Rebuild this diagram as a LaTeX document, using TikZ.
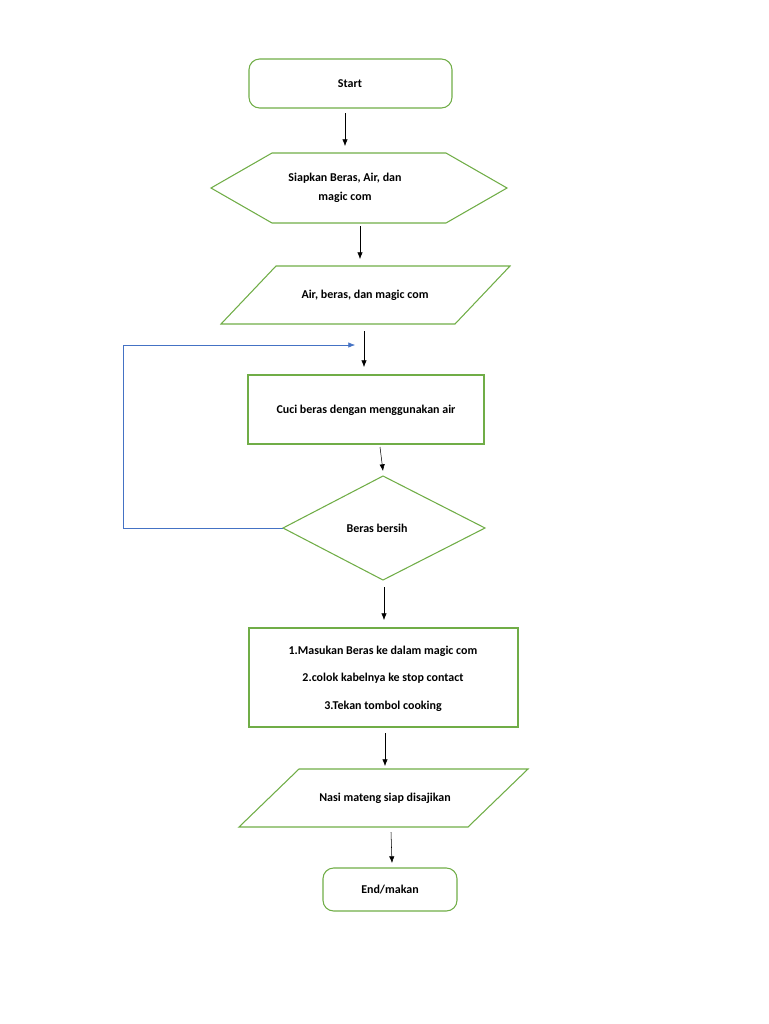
\documentclass[tikz,border=0pt]{standalone}
\usepackage{fontspec}
\setmainfont{Carlito}
\usetikzlibrary{arrows.meta}
\definecolor{boxgreen}{RGB}{112,173,71}
\definecolor{loopblue}{RGB}{68,114,196}
\begin{document}
\begin{tikzpicture}[x=0.0264cm,y=-0.0264cm,
                box/.style={draw=boxgreen,thick},
                label/.style={font=\fontsize{9}{14}\selectfont\bfseries,align=center},
                flow/.style={-{Latex[length=5pt,width=4pt]},black},
            ]
            \useasboundingbox (0,0) rectangle (768,1024);
            % shapes
            \draw[box,rounded corners=8] (249,59) rectangle (452,108);
            \draw[box] (211,188) -- (272,153) -- (446,153) -- (507,188) -- (446,223) -- (272,223) -- cycle;
            \draw[box] (221,324) -- (276,266) -- (510,266) -- (455,324) -- cycle;
            \draw[box,line width=1.2pt] (248,375) rectangle (484,444);
            \draw[box] (283,528) -- (383,476) -- (485,528) -- (383,580) -- cycle;
            \draw[box,line width=1.2pt] (249,628) rectangle (518,727);
            \draw[box] (239,827) -- (299,769) -- (528,769) -- (468,827) -- cycle;
            \draw[box,rounded corners=8] (323,868) rectangle (457,911);
            % texts
            \node[label] (start) at (350,84) {Start};
            \node[label] (siap) at (345,188) {Siapkan Beras, Air, dan\\magic com};
            \node[label] (input) at (365,295) {Air, beras, dan magic com};
            \node[label] (cuci) at (366,410) {Cuci beras dengan menggunakan air};
            \node[label] (cek) at (377,528) {Beras bersih};
            \node[label] (step1) at (383,651) {1.Masukan Beras ke dalam magic com};
            \node[label] (step2) at (383,678) {2.colok kabelnya ke stop contact};
            \node[label] (step3) at (383,706) {3.Tekan tombol cooking};
            \node[label] (nasi) at (385,798) {Nasi mateng siap disajikan};
            \node[label] (end) at (390,890) {End/makan};
            % arrows
            \foreach \name/\xa/\ya/\xb/\yb in {
                    a/345/113/345/146, b/360/226/360/259, c/364/331/364/367,
                    d/380/447/383/471, e/384/587/384/620, f/385/733/385/766,
                    g/391/832/392/863}
                {\coordinate (\name-top) at (\xa,\ya);
                 \coordinate (\name-bot) at (\xb,\yb);
                 \draw[flow] (\name-top) -- (\name-bot);}
            \coordinate (loopin) at (283,528);
            \coordinate (loopout) at (355,345);
            \draw[loopblue,-{Latex[length=5pt,width=4pt]}] (loopin) -- (123,528) -- (123,345) -- (loopout);
        \end{tikzpicture}
\end{document}
